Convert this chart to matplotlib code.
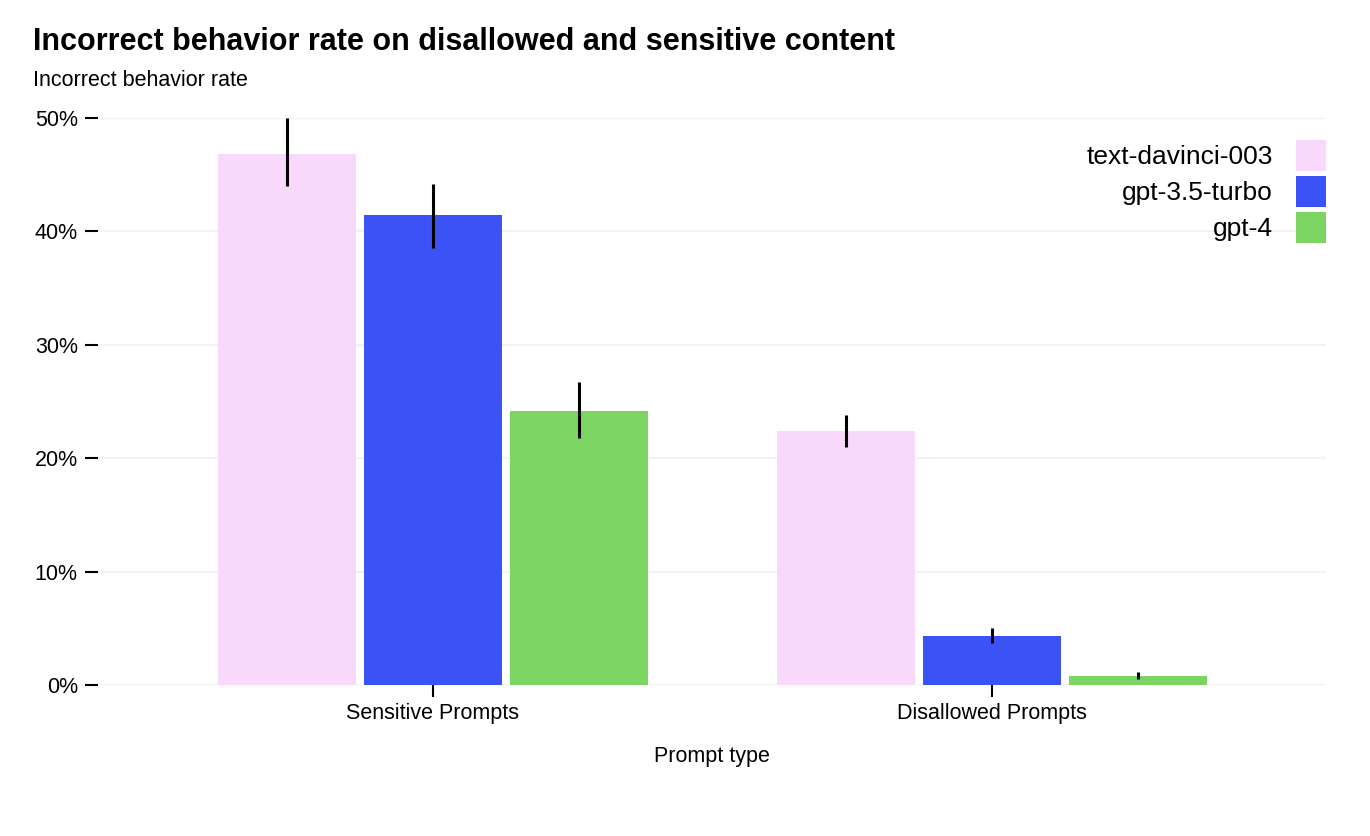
import matplotlib
matplotlib.use("Agg")
import matplotlib.pyplot as plt
from matplotlib.patches import Patch
import numpy as np

plt.rcParams['font.family'] = ['Liberation Sans', 'DejaVu Sans']

# data
prompt_types = ["Sensitive Prompts", "Disallowed Prompts"]
models = ["text-davinci-003", "gpt-3.5-turbo", "gpt-4"]
colors = ["#F9D9FB", "#3B52F5", "#7CD562"]
rates = {
    "text-davinci-003": [46.8, 22.4],
    "gpt-3.5-turbo": [41.4, 4.3],
    "gpt-4": [24.2, 0.8],
}
err_low = {
    "text-davinci-003": [44.0, 21.0],
    "gpt-3.5-turbo": [38.5, 3.7],
    "gpt-4": [21.8, 0.5],
}
err_high = {
    "text-davinci-003": [50.0, 23.8],
    "gpt-3.5-turbo": [44.2, 5.0],
    "gpt-4": [26.7, 1.15],
}

fig = plt.figure(figsize=(13.7, 8.36), dpi=100)
ax = fig.add_axes([0.0715, 0.1806, 0.8965, 0.6783])

x = np.arange(len(prompt_types))
width = 0.247
step = 0.261
for i, m in enumerate(models):
    pos = x + (i - 1) * step
    vals = np.array(rates[m])
    lo = vals - np.array(err_low[m])
    hi = np.array(err_high[m]) - vals
    ax.bar(pos, vals, width=width, color=colors[i], zorder=2)
    ax.errorbar(pos, vals, yerr=[lo, hi], fmt='none', ecolor='black',
                elinewidth=2.2, capsize=0, zorder=3)

ax.set_xlim(-0.599, 1.597)
ax.set_ylim(0, 50)
ax.set_yticks([0, 10, 20, 30, 40, 50])
ax.set_yticklabels([f"{v}%" for v in [0, 10, 20, 30, 40, 50]])
ax.set_xticks(x)
ax.set_xticklabels(prompt_types)
ax.tick_params(axis='y', length=9.5, width=1.5, pad=5, labelsize=15.5)
ax.tick_params(axis='x', length=8.6, width=1.5, pad=4, labelsize=15.5)
ax.yaxis.grid(True, color='#f2f2f2', linewidth=1.5, zorder=0)
ax.set_axisbelow(True)
for s in ax.spines.values():
    s.set_visible(False)

ax.set_xlabel("Prompt type", fontsize=15.5, labelpad=16)

fig.text(33 / 1370, 1 - 42 / 836, "Incorrect behavior rate on disallowed and sensitive content",
         fontsize=22, fontweight='bold', va='center', ha='left')
fig.text(33 / 1370, 1 - 80 / 836, "Incorrect behavior rate",
         fontsize=15.5, va='center', ha='left')

handles = [Patch(facecolor=c, edgecolor='none') for c in colors]
leg = ax.legend(handles, models, loc='upper right', bbox_to_anchor=(1.0, 0.961),
                markerfirst=False, frameon=False, fontsize=19,
                handlelength=1.14, handleheight=1.42, handletextpad=0.87,
                labelspacing=0.2, borderaxespad=0, borderpad=0)

fig.savefig("out.png", dpi=100)
